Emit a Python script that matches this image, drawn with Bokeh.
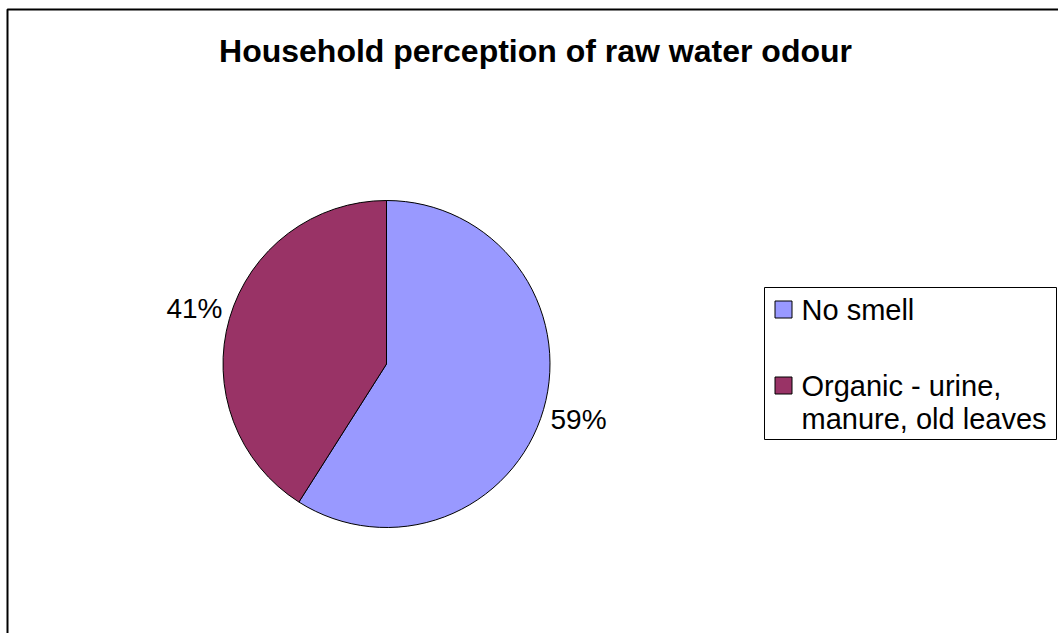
import math

from bokeh.core.properties import value
from bokeh.embed import file_html
from bokeh.models import ColumnDataSource, Range1d
from bokeh.plotting import figure
from bokeh.resources import INLINE

# Survey shares (percent) of household answers about raw water odour
categories = ["No smell", "Organic - urine,\nmanure, old leaves"]
shares = [59, 41]
colors = ["#9999FF", "#993366"]
title_text = "Household perception of raw water odour"

W, H = 1058, 633
FONT = "Liberation Sans"


def ys(y_px):
    """Convert a top-down pixel row into the figure's upward y coordinate."""
    return H - y_px


p = figure(width=W, height=H, output_backend="svg", toolbar_location=None,
           x_range=Range1d(0, W), y_range=Range1d(0, H), min_border=0)
p.axis.visible = False
p.grid.visible = False
p.outline_line_color = None
p.background_fill_color = "white"
p.border_fill_color = "white"

# chart area frame (runs off the right and bottom edges of the page)
p.line([7, 7, W + 5], [ys(H + 5), ys(9), ys(9)], line_color="black", line_width=2)

# title
p.text(x=[535], y=[ys(50.5)], text=[title_text], text_font=value(FONT),
       text_font_style="bold", text_font_size="32px", text_color="black",
       text_align="center", text_baseline="middle")

# pie: slices run clockwise from twelve o'clock
cx, cy, r = 386, ys(363.5), 163.5
total = float(sum(shares))
starts, ends, mids = [], [], []
acc = 0.0
for s in shares:
    a0 = math.pi / 2 - 2 * math.pi * acc / total
    acc += s
    a1 = math.pi / 2 - 2 * math.pi * acc / total
    starts.append(a1)
    ends.append(a0)
    mids.append((a0 + a1) / 2)

src = ColumnDataSource(dict(start=starts, end=ends, color=colors))
p.wedge(x=cx, y=cy, radius=r, start_angle="start", end_angle="end",
        fill_color="color", line_color="black", line_width=1, source=src)

# percentage labels just outside the rim
lab_r = 200
p.text(x=[cx + lab_r * math.cos(m) for m in mids],
       y=[cy + lab_r * math.sin(m) for m in mids],
       text=[f"{s}%" for s in shares], text_font=value(FONT),
       text_font_size="28px", text_color="black",
       text_align="center", text_baseline="middle")

# legend box
lx0, lx1, ly0, ly1 = 764, 1056, 287, 439
p.quad(left=[lx0], right=[lx1], top=[ys(ly0)], bottom=[ys(ly1)],
       fill_color="white", line_color="black", line_width=1)

swatch_rows = [309, 385]
line_gap = 33
for cat, col, sy in zip(categories, colors, swatch_rows):
    p.rect(x=[783], y=[ys(sy)], width=17, height=17, fill_color=col,
           line_color="black", line_width=1)
    lines = cat.split("\n")
    p.text(x=[801] * len(lines), y=[ys(sy + i * line_gap) for i in range(len(lines))],
           text=lines, text_font=value(FONT), text_font_size="29px",
           text_color="black", text_align="left", text_baseline="middle")

open("out.html", "w").write(file_html(p, INLINE))
